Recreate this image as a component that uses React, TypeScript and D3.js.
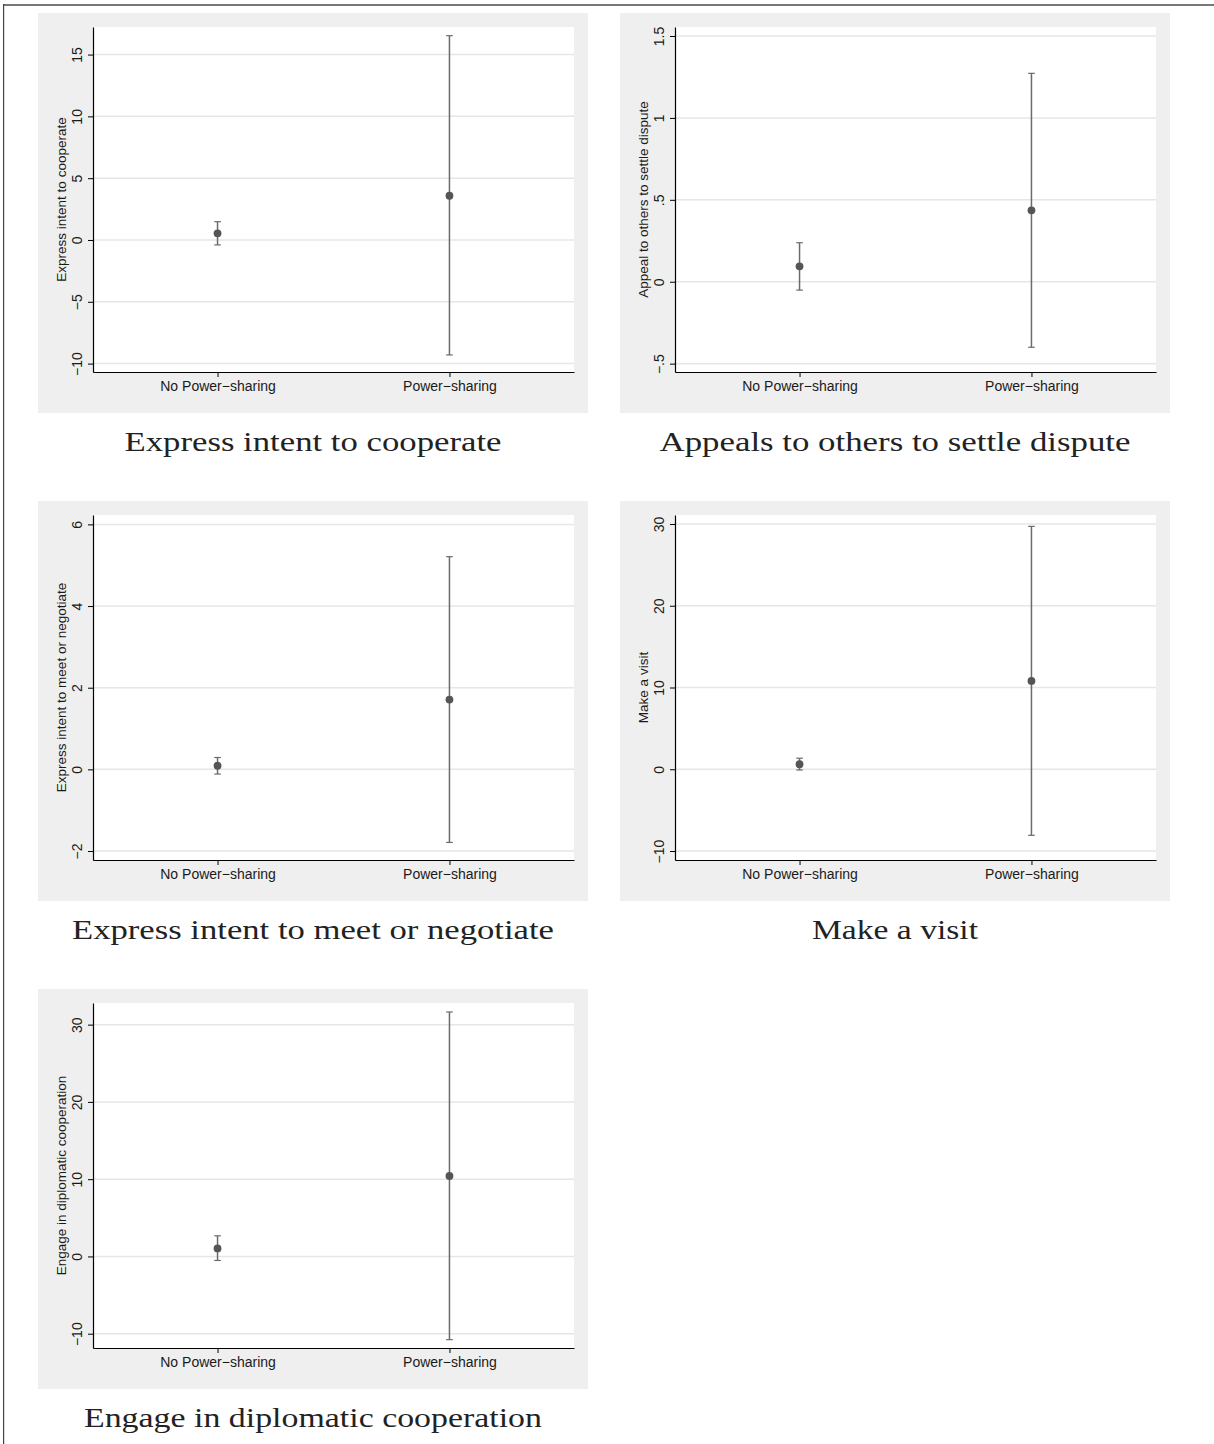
import React, { useEffect, useRef } from "react";
import * as d3 from "d3";

const categories = ["No Power−sharing", "Power−sharing"];

const yTitles = [
  "Express intent to cooperate",
  "Appeal to others to settle dispute",
  "Express intent to meet or negotiate",
  "Make a visit",
  "Engage in diplomatic cooperation",
];

const captions = [
  "Express intent to cooperate",
  "Appeals to others to settle dispute",
  "Express intent to meet or negotiate",
  "Make a visit",
  "Engage in diplomatic cooperation",
];

// [no power-sharing, power-sharing]
const estimates = [
  [0.54, 3.58],
  [0.094, 0.436],
  [0.088, 1.71],
  [0.61, 10.81],
  [1.04, 10.41],
];
const lowerCI = [
  [-0.4, -9.3],
  [-0.051, -0.4],
  [-0.115, -1.79],
  [-0.09, -8.08],
  [-0.52, -10.77],
];
const upperCI = [
  [1.48, 16.53],
  [0.238, 1.272],
  [0.29, 5.21],
  [1.35, 29.71],
  [2.67, 31.64],
];

const yTicks = [
  [-10, -5, 0, 5, 10, 15],
  [-0.5, 0, 0.5, 1, 1.5],
  [-2, 0, 2, 4, 6],
  [-10, 0, 10, 20, 30],
  [-10, 0, 10, 20, 30],
];
const yRanges = [
  [-10.68, 17.23],
  [-0.551, 1.555],
  [-2.22, 6.23],
  [-11.1, 31.1],
  [-11.85, 32.8],
];

// layout
const W = 1214;
const H = 1444;
const panelX = [38, 620];
const panelY = [13, 501, 989];
const panelW = 550;
const panelH = 400;
const captionWidths = [377, 471, 482, 166, 458];

const sans = "'Liberation Sans', Arial, Helvetica, sans-serif";
const serif = "'Liberation Serif', 'Times New Roman', serif";

// stata style labels: −.5, .5, 1.5, −10
function fmt(v: number) {
  const s = String(Math.abs(v)).replace(/^0\./, ".");
  return (v < 0 ? "−" : "") + s;
}

export default function App() {
  const ref = useRef<SVGSVGElement>(null);

  useEffect(() => {
    const svg = d3.select(ref.current);
    svg.selectAll("*").remove();

    svg.append("rect").attr("width", W).attr("height", H).attr("fill", "#fff");
    // page frame
    svg.append("rect").attr("x", 3).attr("y", 4).attr("width", W - 3).attr("height", 2).attr("fill", "#777");
    svg.append("rect").attr("x", 3).attr("y", 4).attr("width", 1.2).attr("height", H - 4).attr("fill", "#444");

    captions.forEach((cap, i) => {
      const gx = panelX[i % 2];
      const gy = panelY[Math.floor(i / 2)];
      const g = svg.append("g").attr("transform", `translate(${gx},${gy})`);

      const left = 55, right = 536, top = 14, bottom = 359;

      g.append("rect").attr("width", panelW).attr("height", panelH).attr("fill", "#efefef");
      g.append("rect")
        .attr("x", left).attr("y", top)
        .attr("width", right - left).attr("height", bottom - top)
        .attr("fill", "#fff");

      const x = d3.scaleLinear().domain([-0.537, 1.537]).range([left, right]);
      const y = d3.scaleLinear().domain(yRanges[i]).range([bottom, top]);

      // grid
      g.selectAll(".grid").data(yTicks[i]).enter().append("line")
        .attr("x1", left).attr("x2", right)
        .attr("y1", d => y(d)).attr("y2", d => y(d))
        .attr("stroke", "#e6e6e6").attr("stroke-width", 1.5);

      // y axis
      const ya = g.append("g")
        .attr("transform", `translate(${left},0)`)
        .call(d3.axisLeft(y).tickValues(yTicks[i]).tickFormat(d => fmt(+d)).tickSize(5).tickSizeOuter(0));
      ya.select(".domain").attr("stroke", "#000").attr("stroke-width", 1.2);
      ya.selectAll(".tick line").attr("stroke", "#000");
      ya.selectAll(".tick text")
        .attr("x", null).attr("dy", null)
        .attr("transform", "translate(-11,0) rotate(-90)")
        .attr("text-anchor", "middle")
        .attr("fill", "#1a1a1a")
        .style("font-family", sans).style("font-size", "14px");

      // x axis
      const xa = g.append("g")
        .attr("transform", `translate(0,${bottom})`)
        .call(d3.axisBottom(x).tickValues([0, 1]).tickFormat(d => categories[+d]).tickSize(5).tickSizeOuter(0));
      xa.select(".domain").attr("stroke", "#000").attr("stroke-width", 1.2);
      xa.selectAll(".tick line").attr("stroke", "#000");
      xa.selectAll(".tick text")
        .attr("y", 9)
        .attr("fill", "#1a1a1a")
        .style("font-family", sans).style("font-size", "14px");

      const rows = [0, 1].map(k => ({ k, est: estimates[i][k], lo: lowerCI[i][k], hi: upperCI[i][k] }));

      // error bars
      g.selectAll(".bar").data(rows).enter().append("line")
        .attr("x1", d => x(d.k)).attr("x2", d => x(d.k))
        .attr("y1", d => y(d.lo)).attr("y2", d => y(d.hi))
        .attr("stroke", "#6b6b6b").attr("stroke-width", 1.5);
      ["lo", "hi"].forEach(end => {
        g.selectAll(".cap-" + end).data(rows).enter().append("line")
          .attr("x1", d => x(d.k) - 3.3).attr("x2", d => x(d.k) + 3.3)
          .attr("y1", d => y((d as any)[end])).attr("y2", d => y((d as any)[end]))
          .attr("stroke", "#6b6b6b").attr("stroke-width", 1.2);
      });

      // markers
      g.selectAll(".pt").data(rows).enter().append("circle")
        .attr("cx", d => x(d.k)).attr("cy", d => y(d.est))
        .attr("r", 3.9).attr("fill", "#555");

      // y title
      g.append("text")
        .attr("transform", `translate(${left - 27.5},${(top + bottom) / 2}) rotate(-90)`)
        .attr("text-anchor", "middle")
        .attr("fill", "#1a1a1a")
        .style("font-family", sans).style("font-size", "13.5px")
        .text(yTitles[i]);

      // caption
      g.append("text")
        .attr("x", panelW / 2).attr("y", 438)
        .attr("text-anchor", "middle")
        .attr("textLength", captionWidths[i])
        .attr("lengthAdjust", "spacingAndGlyphs")
        .attr("fill", "#222")
        .style("font-family", serif).style("font-size", "27px")
        .text(cap);
    });
  }, []);

  return (
    <svg
      ref={ref}
      width={W}
      height={H}
      style={{ position: "absolute", left: 0, top: 0 }}
    />
  );
}
